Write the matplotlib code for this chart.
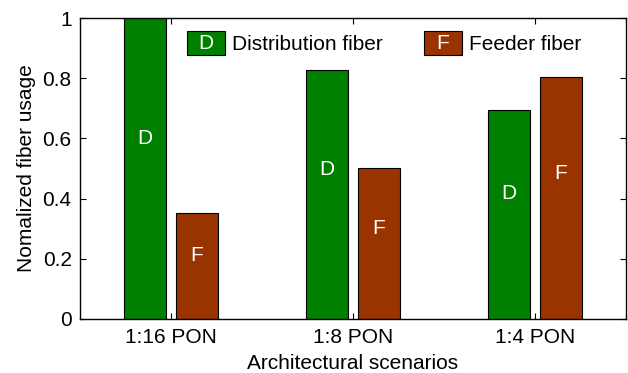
import matplotlib.pyplot as plt
from matplotlib.legend_handler import HandlerPatch
from matplotlib.patches import Rectangle
from matplotlib.text import Text

plt.rcParams["font.family"] = ["Liberation Sans", "DejaVu Sans"]

scenarios = ["1:16 PON", "1:8 PON", "1:4 PON"]
distribution = [1.0, 0.828, 0.693]
feeder = [0.351, 0.502, 0.805]

GREEN = "#008000"
BROWN = "#993300"
FS = 15
BAR_W = 0.23
OFFSET = 0.143


class LetterHandler(HandlerPatch):
    def __init__(self, letter):
        super().__init__()
        self.letter = letter

    def create_artists(self, legend, orig_handle, xdescent, ydescent,
                       width, height, fontsize, trans):
        box = Rectangle((-xdescent, -ydescent), width, height,
                        facecolor=orig_handle.get_facecolor(),
                        edgecolor="black", linewidth=0.8, transform=trans)
        txt = Text(-xdescent + width / 2, -ydescent + height / 2, self.letter,
                   ha="center", va="center", color="white",
                   fontsize=fontsize, transform=trans)
        return [box, txt]


fig = plt.figure(figsize=(6.28, 3.73), dpi=100)
ax = fig.add_axes([80 / 628, 54 / 373, 546 / 628, 301 / 373])

x = list(range(1, len(scenarios) + 1))
xd = [v - OFFSET for v in x]
xf = [v + OFFSET for v in x]
bd = ax.bar(xd, distribution, BAR_W, color=GREEN, edgecolor="black", linewidth=0.8)
bf = ax.bar(xf, feeder, BAR_W, color=BROWN, edgecolor="black", linewidth=0.8)

for xi, v in zip(xd, distribution):
    ax.text(xi, v * 0.6, "D", ha="center", va="center", color="white", fontsize=FS)
for xi, v in zip(xf, feeder):
    ax.text(xi, v * 0.6, "F", ha="center", va="center", color="white", fontsize=FS)

ax.set_xlim(0.5, 3.5)
ax.set_ylim(0, 1)
ax.set_xticks(x)
ax.set_xticklabels(scenarios)
ax.set_yticks([0, 0.2, 0.4, 0.6, 0.8, 1])
ax.set_yticklabels(["0", "0.2", "0.4", "0.6", "0.8", "1"])
ax.tick_params(direction="in", top=True, right=True, labelsize=FS, length=4, width=0.8)
ax.tick_params(axis="x", pad=6.5)
ax.tick_params(axis="y", pad=6)
for s in ax.spines.values():
    s.set_linewidth(1.0)

ax.set_xlabel("Architectural scenarios", fontsize=FS, labelpad=5)
ax.set_ylabel("Nomalized fiber usage", fontsize=FS, labelpad=5)

ax.legend([bd[0], bf[0]], ["Distribution fiber", "Feeder fiber"],
          handler_map={bd[0]: LetterHandler("D"), bf[0]: LetterHandler("F")},
          loc="upper left", bbox_to_anchor=((187 - 80) / 546, 1 - 13 / 301),
          ncol=2, frameon=False, fontsize=FS, borderpad=0, borderaxespad=0,
          handlelength=1.83, handleheight=1.4, handletextpad=0.34,
          columnspacing=1.95)

fig.savefig("out.png", dpi=100)
